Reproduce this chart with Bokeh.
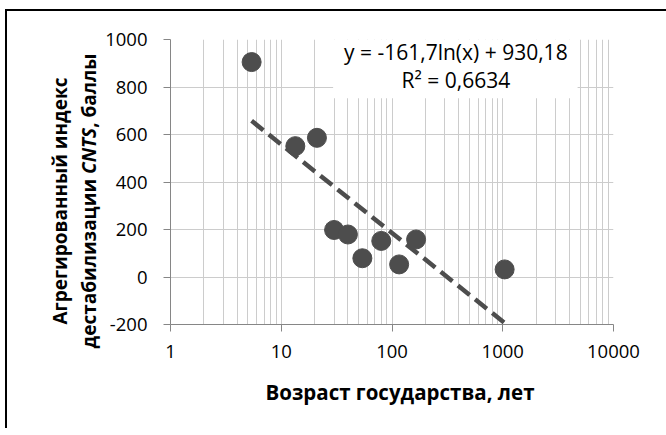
import numpy as np
from bokeh.plotting import figure
from bokeh.layouts import row
from bokeh.models import (FixedTicker, NumeralTickFormatter, Label, Range1d, Div)
from bokeh.embed import file_html
from bokeh.resources import INLINE

# ---- data ----
ages = [5.4, 13.4, 21, 30, 40, 54, 80, 116, 165, 1040]
cnts = [905, 551, 586, 198, 179, 79, 152, 53, 158, 32]
trend_coef = [-161.7, 930.18]          # y = a*ln(x) + b
r2 = 0.6634
x_ticks = [1, 10, 100, 1000, 10000]
y_ticks = [-200, 0, 200, 400, 600, 800, 1000]
x_label = "Возраст государства, лет"
y_label_1 = "Агрегированный индекс"
y_label_2 = ["дестабилизации ", "CNTS", ", баллы"]

FONT = "Open Sans"
GRID = "#cccccc"
AXIS = "#868686"
DARK = "#4d4d4d"
W, H = 666, 428
DIV_W = 90

p = figure(width=W - DIV_W, height=H, x_axis_type="log",
           x_range=Range1d(1, 10000), y_range=Range1d(-200, 1000),
           output_backend="svg", toolbar_location=None,
           min_border_left=170 - DIV_W, min_border_right=53,
           min_border_top=39, min_border_bottom=H - 324)
p.margin = 0
p.outline_line_color = None
p.background_fill_color = "white"
p.border_fill_color = None

minor = [m * 10 ** k for k in range(4) for m in range(2, 10)]
p.xaxis.ticker = FixedTicker(ticks=x_ticks, minor_ticks=minor)
p.yaxis.ticker = FixedTicker(ticks=y_ticks)
for ax in (p.xaxis, p.yaxis):
    ax.formatter = NumeralTickFormatter(format="0")
    ax.axis_line_color = AXIS
    ax.major_tick_line_color = AXIS
    ax.major_tick_out = 7
    ax.major_tick_in = 0
    ax.minor_tick_out = 0
    ax.minor_tick_in = 0
    ax.major_label_text_font = FONT
    ax.major_label_text_font_size = "18.5px"
    ax.major_label_text_color = "black"
p.yaxis.major_label_standoff = 16
p.xaxis.major_label_standoff = 13

p.xgrid.grid_line_color = GRID
p.xgrid.minor_grid_line_color = GRID
p.ygrid.grid_line_color = GRID

# equation box (white background over the grid)
p.quad(left=[29.4], right=[4740], bottom=[753], top=[1000],
       fill_color="white", line_color=None)

# trend line
a, b = trend_coef
tx = [min(ages), max(ages)]
ty = [a * np.log(v) + b for v in tx]
p.line(tx, ty, line_color=DARK, line_width=4.5, line_dash="15 7")

p.scatter(ages, cnts, size=19, fill_color=DARK, line_color=DARK)

eq1 = "y = " + f"{a:.1f}".replace(".", ",") + "ln(x) + " + f"{b:.2f}".replace(".", ",")
eq2 = "R² = " + f"{r2:.4f}".replace(".", ",")
for txt, yy in ((eq1, 947), (eq2, 829)):
    p.add_layout(Label(x=377, y=yy, text=txt, text_align="center",
                       text_baseline="middle", text_font=FONT,
                       text_font_size="21px", text_color="black"))

# chart-area border, rotated two-line y title (italic CNTS) and x title, in a Div
html = (
    f'<div style="position:absolute; left:5px; top:9px; width:661px; height:{H - 9}px; '
    'border-left:2px solid #000; border-top:2px solid #000; box-sizing:border-box; '
    'pointer-events:none;"></div>'
    '<div style="position:absolute; left:75px; top:201px; '
    'transform-origin:0 0; transform:rotate(-90deg) translate(-50%,-50%); '
    f"white-space:nowrap; text-align:center; font-family:'{FONT}'; "
    'font-weight:bold; font-size:19px; line-height:29px; color:#000;">'
    f'{y_label_1}<br>{y_label_2[0]}<i>{y_label_2[1]}</i>{y_label_2[2]}</div>'
    '<div style="position:absolute; left:400px; top:392px; '
    'transform:translate(-50%,-50%); white-space:nowrap; '
    f"font-family:'{FONT}'; font-weight:bold; font-size:20.5px; "
    f'line-height:28px; color:#000;">{x_label}</div>'
)
div = Div(text=html, width=DIV_W, height=H, margin=0,
          styles={"position": "relative", "overflow": "visible"})

layout = row(div, p)
layout.margin = 0

open("out.html", "w").write(file_html(layout, INLINE))
